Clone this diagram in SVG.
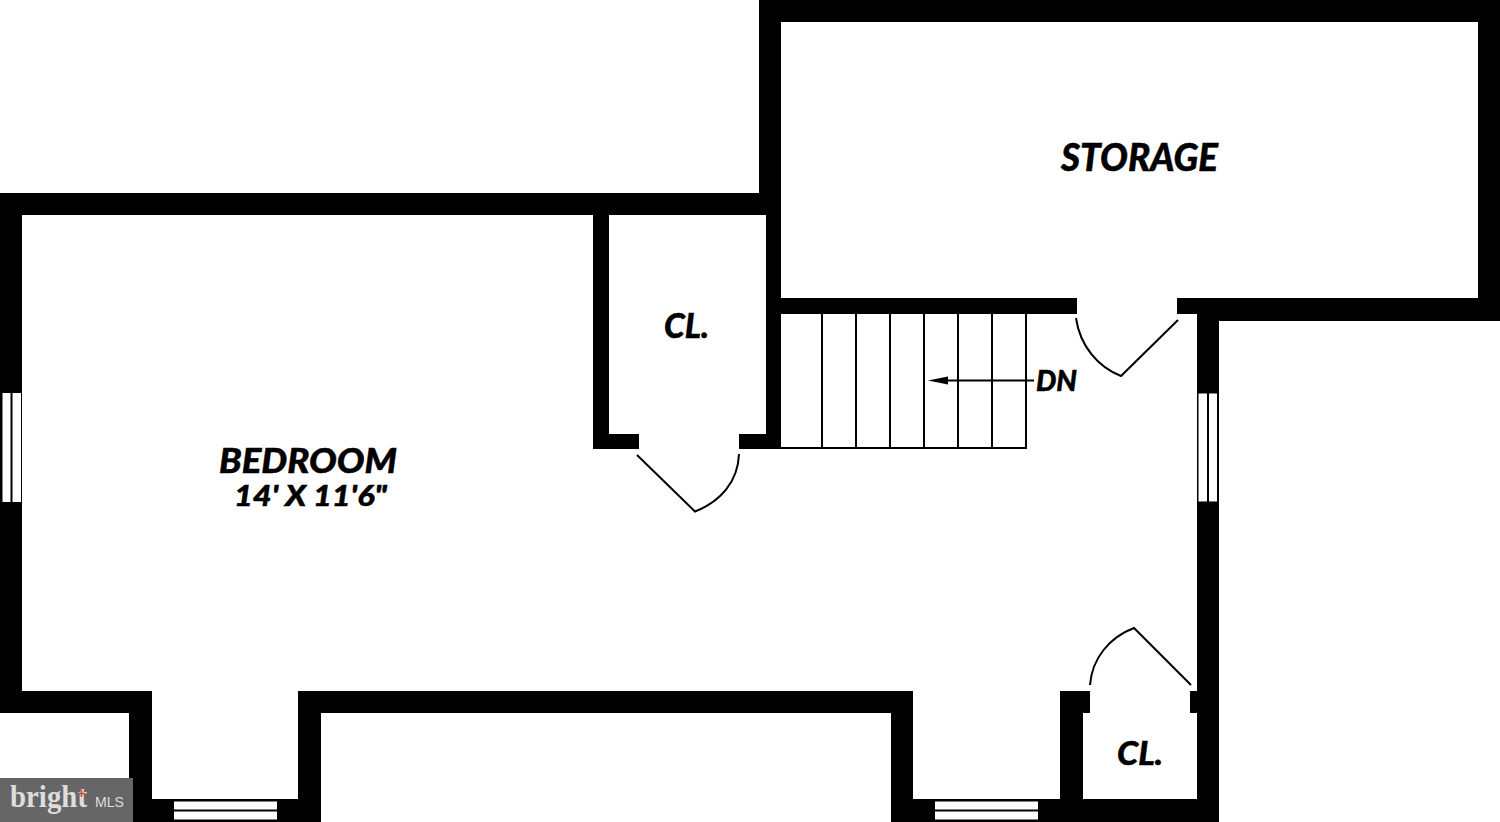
<svg xmlns="http://www.w3.org/2000/svg" width="1500" height="822" viewBox="0 0 1500 822">
<style>
.wall{fill:#000}
.pane{fill:#fff}
.thin{fill:none;stroke:#000;stroke-width:2}
.door{fill:none;stroke:#000;stroke-width:2;stroke-linejoin:miter}
text{font-family:Lato,"Open Sans","Liberation Sans",sans-serif;font-weight:900;font-style:italic;fill:#000}
.lab{stroke:#000;stroke-width:.5}
</style>
<rect width="1500" height="822" fill="#fff"/>
<g id="walls" class="wall">
<path d="M759 0H1500V321H1219V392H1197V314H1177V298H1478V22H781V298H1077V314H781V449H739V434H766V215H609V434H639V449H593V215H22V392H0V193H759Z"/>
<rect x="0" y="503" width="22" height="188"/>
<path d="M0 691H152V799H298V691H913V799H1060V691H1090V713H1083V799H1197V713H1190V691H1197V503H1219V822H891V713H321V822H129V713H0Z"/>
</g>
<g id="windows">
<rect x="0" y="392" width="22" height="111" class="wall"/>
<rect x="2.500" y="393" width="8" height="109" class="pane"/>
<rect x="12.500" y="393" width="8.500" height="109" class="pane"/>
<rect x="1197" y="392" width="22" height="111" class="wall"/>
<rect x="1198.500" y="393.500" width="8.500" height="108" class="pane"/>
<rect x="1209" y="393.500" width="8" height="108" class="pane"/>
<rect x="174" y="801.500" width="103" height="8" class="pane"/>
<rect x="174" y="811.500" width="103" height="8" class="pane"/>
<rect x="935" y="801.500" width="103" height="8" class="pane"/>
<rect x="935" y="811.500" width="103" height="8" class="pane"/>
</g>
<g id="stairs" class="thin">
<path d="M781 448H1026V314M822 314V448M856 314V448M890 314V448M924 314V448M958 314V448M992 314V448"/>
<path d="M1034 380.500H940"/>
<path d="M928 380.500L948 376.500V384.500Z" fill="#000" stroke="none"/>
</g>
<g id="doors" class="door">
<path d="M637 455L695 511.500C720 502 738 482 739 454"/>
<path d="M1076 318C1080 346 1098 367 1121 376L1178 320"/>
<path d="M1090 685C1092 658 1110 637 1134 628L1191 685"/>
</g>
<g id="labels" class="lab">
<text x="1061" y="171" font-size="37" textLength="157" lengthAdjust="spacingAndGlyphs">STORAGE</text>
<text x="664" y="338" font-size="35" textLength="45" lengthAdjust="spacingAndGlyphs">CL.</text>
<text x="1117" y="765" font-size="33" textLength="46" lengthAdjust="spacingAndGlyphs">CL.</text>
<text x="219" y="473" font-size="35" textLength="178" lengthAdjust="spacingAndGlyphs">BEDROOM</text>
<text x="234" y="506" font-size="28" textLength="153" lengthAdjust="spacingAndGlyphs">14' X 11'6"</text>
<text x="1036" y="391" font-size="28" textLength="41" lengthAdjust="spacingAndGlyphs">DN</text>
</g>
<g id="logo">
<rect x="0" y="778" width="133" height="44" fill="#666"/>
<text x="10" y="807" font-size="31" textLength="77" lengthAdjust="spacingAndGlyphs" style="font-family:'Liberation Serif',serif;font-weight:700;font-style:normal;fill:#ddd">bright</text>
<text x="95" y="807" font-size="14" textLength="29" lengthAdjust="spacingAndGlyphs" style="font-family:'Liberation Sans',sans-serif;font-weight:400;font-style:normal;fill:#ddd">MLS</text>
<path d="M78 793.500H85M81.500 790V797" stroke="#d2452f" stroke-width="1.500"/>
</g>
</svg>
